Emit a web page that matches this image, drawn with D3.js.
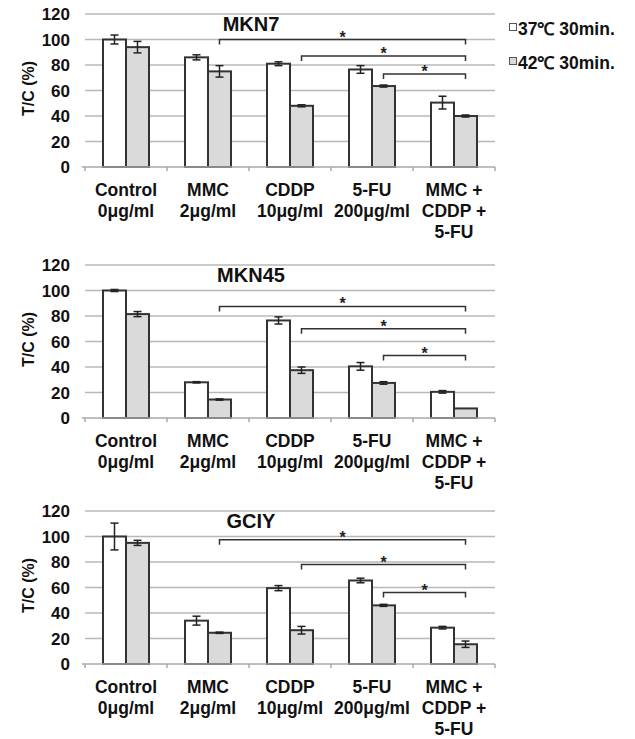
<!DOCTYPE html>
<html>
<head>
<meta charset="utf-8">
<script src="https://cdn.jsdelivr.net/npm/d3@7.9.0/dist/d3.min.js"></script>
<style>
  body { margin: 0; background: #fff; }
  svg { display: block; font-family: "Liberation Sans", Arial, sans-serif; font-weight: bold; }
</style>
</head>
<body>
<svg id="chart" width="635" height="739"></svg>
<script>
// categories (two-line labels, last one three lines)
const categories = [
  ["Control", "0μg/ml"],
  ["MMC", "2μg/ml"],
  ["CDDP", "10μg/ml"],
  ["5-FU", "200μg/ml"],
  ["MMC +", "CDDP +", "5-FU"]
];
const yTicks = [0, 20, 40, 60, 80, 100, 120];
const seriesNames = ["37℃ 30min.", "42℃ 30min."];
const cellLines = ["MKN7", "MKN45", "GCIY"];

// T/C (%) values
const mkn7_37 = [100, 86, 81, 76.5, 50.5];
const mkn7_37Err = [3.5, 2, 1.5, 3, 5];
const mkn7_42 = [94, 75, 48, 63.5, 40];
const mkn7_42Err = [4.5, 4.5, 0.8, 0.8, 0.8];

const mkn45_37 = [100, 28, 76.5, 40.5, 20.5];
const mkn45_37Err = [0.8, 0.5, 2.8, 3, 1];
const mkn45_42 = [81.5, 14.5, 37.5, 27.5, 7.5];
const mkn45_42Err = [2, 0.5, 2.5, 1, 0];

const gciy_37 = [100, 34, 59.5, 65.5, 28.5];
const gciy_37Err = [10.5, 3.5, 2, 1.8, 1];
const gciy_42 = [95, 24.5, 26.5, 46, 15.5];
const gciy_42Err = [2, 0.5, 3, 0.8, 2.5];

// significance brackets: [from category, to category, height in %]
const mkn7Brackets = [[1, 4, 100], [2, 4, 87], [3, 4, 73]];
const mkn45Brackets = [[1, 4, 87.5], [2, 4, 70], [3, 4, 49]];
const gciyBrackets = [[1, 4, 97.5], [2, 4, 78], [3, 4, 56]];

const panels = [
  { title: cellLines[0], top: 14, bars: [mkn7_37, mkn7_42], errs: [mkn7_37Err, mkn7_42Err], brackets: mkn7Brackets },
  { title: cellLines[1], top: 265, bars: [mkn45_37, mkn45_42], errs: [mkn45_37Err, mkn45_42Err], brackets: mkn45Brackets },
  { title: cellLines[2], top: 511, bars: [gciy_37, gciy_42], errs: [gciy_37Err, gciy_42Err], brackets: gciyBrackets }
];

const fills = ["#ffffff", "#dadada"];
const plotLeft = 85, plotRight = 495, plotHeight = 153;

const svg = d3.select('#chart');

const x = d3.scaleBand().domain(d3.range(categories.length)).range([plotLeft, plotRight]);
const xs = d3.scaleBand().domain([0, 1]).range([18, x.bandwidth() - 18]);

panels.forEach((p) => {
  const g = svg.append('g');
  const y = d3.scaleLinear().domain([0, 120]).range([p.top + plotHeight, p.top]);
  const zero = y(0);

  // gridlines
  g.selectAll('line.grid')
    .data(yTicks.filter(t => t > 0))
    .join('line')
    .attr('x1', plotLeft).attr('x2', plotRight)
    .attr('y1', d => y(d)).attr('y2', d => y(d))
    .attr('stroke', '#b8b8b8').attr('stroke-width', 1.3);

  // y tick labels
  g.selectAll('text.ytick')
    .data(yTicks)
    .join('text')
    .attr('x', 70).attr('y', d => y(d))
    .attr('dy', '0.36em')
    .attr('text-anchor', 'end')
    .attr('font-size', 17)
    .attr('fill', '#111')
    .text(d => d);

  // y axis label
  g.append('text')
    .attr('transform', `translate(34,${p.top + plotHeight / 2 - 2}) rotate(-90)`)
    .attr('text-anchor', 'middle')
    .attr('font-size', 16)
    .attr('fill', '#111')
    .text('T/C (%)');

  // title
  g.append('text')
    .attr('x', 251).attr('y', p.top + 17)
    .attr('text-anchor', 'middle')
    .attr('font-size', 20)
    .attr('fill', '#111')
    .text(p.title);

  // bars
  p.bars.forEach((vals, s) => {
    g.selectAll(null)
      .data(vals)
      .join('rect')
      .attr('x', (d, i) => x(i) + xs(s))
      .attr('y', d => y(d))
      .attr('width', xs.bandwidth())
      .attr('height', d => zero - y(d))
      .attr('fill', fills[s])
      .attr('stroke', '#333')
      .attr('stroke-width', 2);
  });

  // error bars
  p.bars.forEach((vals, s) => {
    vals.forEach((v, i) => {
      const e = p.errs[s][i];
      if (!e) return;
      const cx = x(i) + xs(s) + xs.bandwidth() / 2;
      const eg = g.append('g').attr('stroke', '#222').attr('stroke-width', 1.5);
      eg.append('line').attr('x1', cx).attr('x2', cx).attr('y1', y(v + e)).attr('y2', y(v - e));
      eg.append('line').attr('x1', cx - 4).attr('x2', cx + 4).attr('y1', y(v + e)).attr('y2', y(v + e));
      eg.append('line').attr('x1', cx - 4).attr('x2', cx + 4).attr('y1', y(v - e)).attr('y2', y(v - e));
    });
  });

  // x axis baseline and boundary ticks
  g.append('line')
    .attr('x1', plotLeft - 3).attr('x2', plotRight)
    .attr('y1', zero).attr('y2', zero)
    .attr('stroke', '#a8a8a8').attr('stroke-width', 1.5);
  g.selectAll('line.xtick')
    .data(d3.range(categories.length + 1))
    .join('line')
    .attr('x1', i => plotLeft + i * x.step()).attr('x2', i => plotLeft + i * x.step())
    .attr('y1', zero).attr('y2', zero + 4)
    .attr('stroke', '#a8a8a8').attr('stroke-width', 1.5);

  // category labels
  categories.forEach((lines, i) => {
    const t = g.append('text')
      .attr('text-anchor', 'middle')
      .attr('font-size', 17.5)
      .attr('fill', '#111');
    lines.forEach((ln, k) => {
      t.append('tspan')
        .attr('x', x(i) + x.bandwidth() / 2)
        .attr('y', zero + 28.5 + k * 21)
        .text(ln);
    });
  });

  // significance brackets
  p.brackets.forEach(([from, to, h]) => {
    const x1 = x(from) + xs(1) + xs.bandwidth() / 2;
    const x2 = x(to) + xs(1) + xs.bandwidth() / 2;
    const by = y(h);
    g.append('path')
      .attr('d', `M${x1},${by + 5}V${by}H${x2}V${by + 5}`)
      .attr('fill', 'none')
      .attr('stroke', '#333')
      .attr('stroke-width', 1.5);
    g.append('text')
      .attr('x', (x1 + x2) / 2)
      .attr('y', by + 3)
      .attr('text-anchor', 'middle')
      .attr('font-size', 16)
      .attr('fill', '#222')
      .text('*');
  });
});

// legend
const legend = svg.append('g');
seriesNames.forEach((name, s) => {
  const ly = 23 + s * 34;
  legend.append('rect')
    .attr('x', 509.5).attr('y', ly + 0.5)
    .attr('width', 7).attr('height', 7)
    .attr('fill', fills[s])
    .attr('stroke', '#555').attr('stroke-width', 1);
  legend.append('text')
    .attr('x', 518).attr('y', ly + 12)
    .attr('font-size', 17.5)
    .attr('fill', '#111')
    .text(name);
});
</script>
</body>
</html>
